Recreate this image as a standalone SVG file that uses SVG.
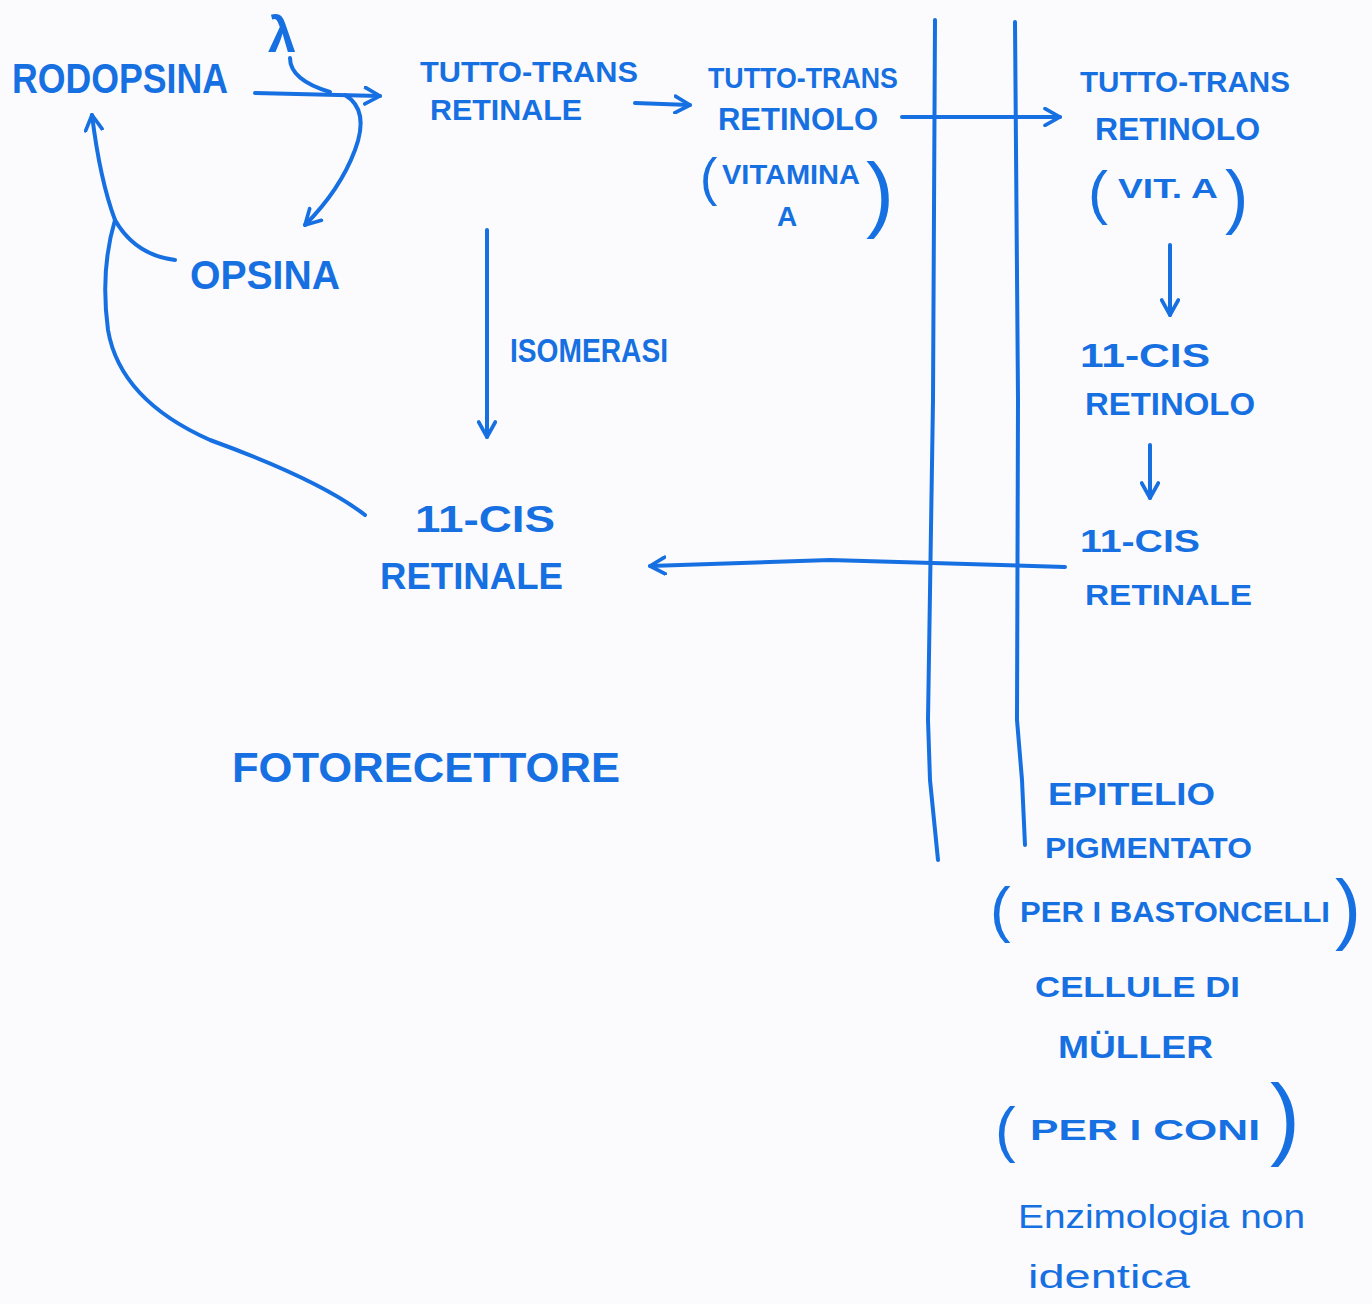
<svg xmlns="http://www.w3.org/2000/svg" width="1372" height="1304" viewBox="0 0 1372 1304">
<style>
.t{font-family:"Liberation Sans",Arial,sans-serif;fill:#1670e2;font-weight:bold}
.l{fill:none;stroke:#1670e2;stroke-width:4;stroke-linecap:round;stroke-linejoin:round}
.p{font-family:"Liberation Sans",Arial,sans-serif;fill:#1670e2}
</style>
<defs>
<marker id="ah" viewBox="0 0 12 12" refX="10" refY="6" markerWidth="5" markerHeight="5" orient="auto" markerUnits="strokeWidth">
<path d="M1,1 L10,6 L1,11" fill="none" stroke="#1670e2" stroke-width="2.2" stroke-linecap="round" stroke-linejoin="round"/>
</marker>
</defs>
<rect width="1372" height="1304" fill="#fbfbfd"/>
<g id="connectors">
<path class="l" d="M255,93 L380,96" marker-end="url(#ah)"/>
<path class="l" d="M290,58 Q290,80 330,92"/>
<path class="l" d="M345,95 Q370,110 355,150 Q340,190 305,225" marker-end="url(#ah)"/>
<path class="l" d="M635,103 L690,105" marker-end="url(#ah)"/>
<path class="l" d="M902,117 L1060,117" marker-end="url(#ah)"/>
<path class="l" d="M1170,245 L1170,315" marker-end="url(#ah)"/>
<path class="l" d="M1150,445 L1150,498" marker-end="url(#ah)"/>
<path class="l" d="M487,230 L487,437" marker-end="url(#ah)"/>
<path class="l" d="M1065,567 L830,560 L650,566" marker-end="url(#ah)"/>
<path class="l" d="M365,515 Q320,480 210,440 Q120,400 108,330 Q100,270 115,220 Q100,180 92,115" marker-end="url(#ah)"/>
<path class="l" d="M175,260 Q135,255 115,220"/>
<path class="l" d="M935,20 L933,400 L928,720 L930,780 L938,860"/>
<path class="l" d="M1015,22 L1018,400 L1017,720 L1022,780 L1025,845"/>
</g>
<g id="rodopsina"><text class="t" x="12" y="93" font-size="42" textLength="216" lengthAdjust="spacingAndGlyphs">RODOPSINA</text></g>
<g id="lambda"><text class="t" x="268" y="52" font-size="50">λ</text></g>
<g id="opsina"><text class="t" x="190" y="289" font-size="40" textLength="150" lengthAdjust="spacingAndGlyphs">OPSINA</text></g>
<g id="tt-retinale">
<text class="t" x="420" y="82" font-size="30" textLength="218" lengthAdjust="spacingAndGlyphs">TUTTO-TRANS</text>
<text class="t" x="430" y="120" font-size="30" textLength="152" lengthAdjust="spacingAndGlyphs">RETINALE</text>
</g>
<g id="tt-retinolo-1">
<text class="t" x="708" y="88" font-size="30" textLength="190" lengthAdjust="spacingAndGlyphs">TUTTO-TRANS</text>
<text class="t" x="718" y="130" font-size="32" textLength="160" lengthAdjust="spacingAndGlyphs">RETINOLO</text>
<text class="p" x="700" y="195" font-size="52">(</text>
<text class="t" x="722" y="184" font-size="28" textLength="138" lengthAdjust="spacingAndGlyphs">VITAMINA</text>
<text class="t" x="777" y="226" font-size="28">A</text>
<text class="p" x="866" y="222" font-size="84">)</text>
</g>
<g id="tt-retinolo-2">
<text class="t" x="1080" y="92" font-size="30" textLength="210" lengthAdjust="spacingAndGlyphs">TUTTO-TRANS</text>
<text class="t" x="1095" y="140" font-size="32" textLength="165" lengthAdjust="spacingAndGlyphs">RETINOLO</text>
<text class="p" x="1088" y="213" font-size="60">(</text>
<text class="t" x="1118" y="198" font-size="28" textLength="100" lengthAdjust="spacingAndGlyphs">VIT. A</text>
<text class="p" x="1225" y="220" font-size="70">)</text>
</g>
<g id="cis-retinolo">
<text class="t" x="1080" y="367" font-size="34" textLength="130" lengthAdjust="spacingAndGlyphs">11-CIS</text>
<text class="t" x="1085" y="415" font-size="32" textLength="170" lengthAdjust="spacingAndGlyphs">RETINOLO</text>
</g>
<g id="cis-retinale-r">
<text class="t" x="1080" y="552" font-size="32" textLength="120" lengthAdjust="spacingAndGlyphs">11-CIS</text>
<text class="t" x="1085" y="605" font-size="30" textLength="167" lengthAdjust="spacingAndGlyphs">RETINALE</text>
</g>
<g id="cis-retinale-l">
<text class="t" x="415" y="532" font-size="36" textLength="140" lengthAdjust="spacingAndGlyphs">11-CIS</text>
<text class="t" x="380" y="589" font-size="36" textLength="183" lengthAdjust="spacingAndGlyphs">RETINALE</text>
</g>
<g id="isomerasi"><text class="t" x="510" y="362" font-size="34" textLength="158" lengthAdjust="spacingAndGlyphs">ISOMERASI</text></g>
<g id="fotorecettore"><text class="t" x="232" y="782" font-size="42" textLength="388" lengthAdjust="spacingAndGlyphs">FOTORECETTORE</text></g>
<g id="epitelio">
<text class="t" x="1048" y="805" font-size="32" textLength="167" lengthAdjust="spacingAndGlyphs">EPITELIO</text>
<text class="t" x="1045" y="858" font-size="30" textLength="207" lengthAdjust="spacingAndGlyphs">PIGMENTATO</text>
<text class="p" x="990" y="930" font-size="62">(</text>
<text class="t" x="1020" y="922" font-size="30" textLength="310" lengthAdjust="spacingAndGlyphs">PER I BASTONCELLI</text>
<text class="p" x="1335" y="935" font-size="78">)</text>
</g>
<g id="muller">
<text class="t" x="1035" y="997" font-size="30" textLength="205" lengthAdjust="spacingAndGlyphs">CELLULE DI</text>
<text class="t" x="1058" y="1058" font-size="32" textLength="155" lengthAdjust="spacingAndGlyphs">MÜLLER</text>
<text class="p" x="995" y="1150" font-size="62">(</text>
<text class="t" x="1030" y="1140" font-size="30" textLength="230" lengthAdjust="spacingAndGlyphs">PER I CONI</text>
<text class="p" x="1270" y="1148" font-size="90">)</text>
</g>
<g id="enzimologia">
<text class="p" x="1018" y="1228" font-size="34" textLength="287" lengthAdjust="spacingAndGlyphs">Enzimologia non</text>
<text class="p" x="1028" y="1288" font-size="34" textLength="162" lengthAdjust="spacingAndGlyphs">identica</text>
</g>
</svg>
